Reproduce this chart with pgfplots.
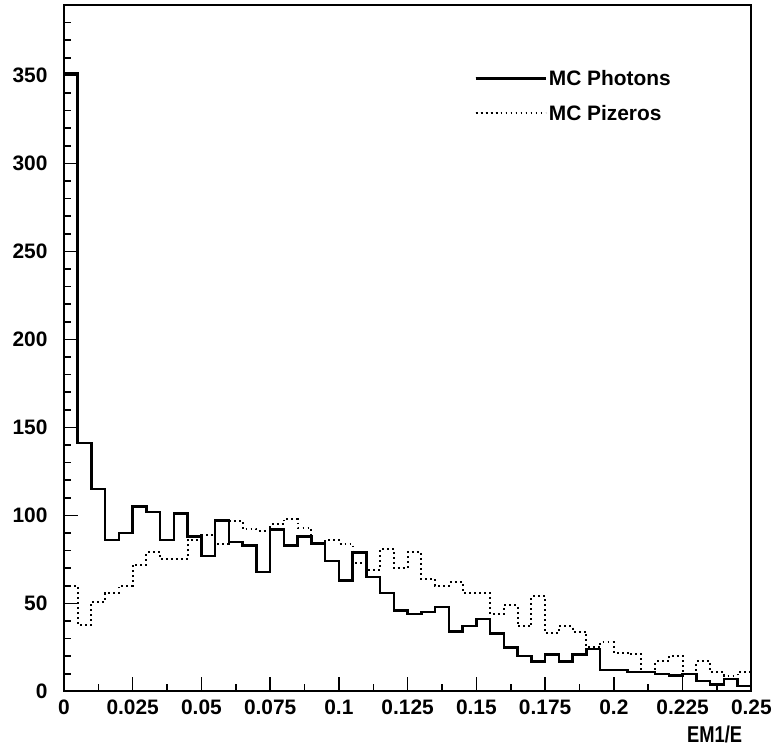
\documentclass[border=0pt]{standalone}
\usepackage{fontspec}
\setmainfont{Liberation Sans}
\usepackage{pgfplots}
\pgfplotsset{compat=1.18}
\usepackage{pgfplotstable}

% left bin edge, MC photons, MC pizeros (bin width 0.005); last row repeats the final bin
\pgfplotstableread{
x      pho  piz
0.000  351  60
0.005  141  38
0.010  115  51
0.015   86  56
0.020   90  60
0.025  105  72
0.030  102  79
0.035   86  75
0.040  101  75
0.045   88  86
0.050   77  89
0.055   97  84
0.060   85  97
0.065   83  92
0.070   68  91
0.075   92  95
0.080   83  98
0.085   88  93
0.090   84  84
0.095   74  86
0.100   63  84
0.105   79  73
0.110   65  69
0.115   56  81
0.120   46  70
0.125   44  79
0.130   45  64
0.135   48  60
0.140   34  62
0.145   37  56
0.150   41  56
0.155   33  44
0.160   25  49
0.165   20  37
0.170   17  54
0.175   21  33
0.180   17  37
0.185   21  34
0.190   24  25
0.195   12  28
0.200   12  22
0.205   11  21
0.210   11  11
0.215   10  17
0.220    9  20
0.225   10  10
0.230    6  17
0.235    4  11
0.240    7   9
0.245    3  11
0.250    3  11
}\histo

\begin{document}
\begin{tikzpicture}
\begin{axis}[
  scale only axis, width=688bp, height=687bp,
  xmin=0, xmax=0.25, ymin=0, ymax=390,
  axis line style={line width=1.8bp},
  tick align=inside, xtick pos=bottom, ytick pos=left,
  major tick length=14bp, minor tick length=7bp,
  every tick/.style={black, line width=1.5bp},
  xtick={0,0.025,0.05,0.075,0.1,0.125,0.15,0.175,0.2,0.225,0.25},
  xticklabels={0,0.025,0.05,0.075,0.1,0.125,0.15,0.175,0.2,0.225,0.25},
  minor xtick={0.0125,0.0375,0.0625,0.0875,0.1125,0.1375,0.1625,0.1875,0.2125,0.2375},
  ytick={0,50,100,150,200,250,300,350},
  yticklabels={0,50,100,150,200,250,300,350},
  minor ytick={10,20,30,40,60,70,80,90,110,120,130,140,160,170,180,190,210,220,230,240,260,270,280,290,310,320,330,340,360,370,380},
  tick label style={font=\fontsize{21}{21}\selectfont\bfseries},
  xticklabel style={yshift=-5bp},
  yticklabel style={xshift=-13bp},
  xlabel={\scalebox{0.8}[1]{\fontsize{23}{23}\selectfont\bfseries EM1/E}},
  xlabel style={at={(axis description cs:0.987,-0.0626)}, anchor=east, inner sep=0pt},
  legend style={draw=none, fill=none, at={(axis description cs:0.597,0.908)}, anchor=north west,
    inner sep=0pt, font=\fontsize{21}{21}\selectfont\bfseries, row sep=14bp},
  legend cell align=left,
  legend image code/.code={\draw[#1] (0bp,0bp) -- (57bp,0bp); \path (0bp,0bp) -- (70bp,0bp);},
]
\addplot[const plot, line width=2.4bp, black] table[x=x, y=pho] {\histo};
\addlegendentry{MC Photons}
\addplot[const plot, line width=2bp, black, dash pattern=on 1.8bp off 3.2bp] table[x=x, y=piz] {\histo};
\addlegendentry{MC Pizeros}
\end{axis}
\path (current axis.south west) ++(-64bp,-55bp) rectangle ([shift={(23bp,5bp)}]current axis.north east);
\end{tikzpicture}
\end{document}
